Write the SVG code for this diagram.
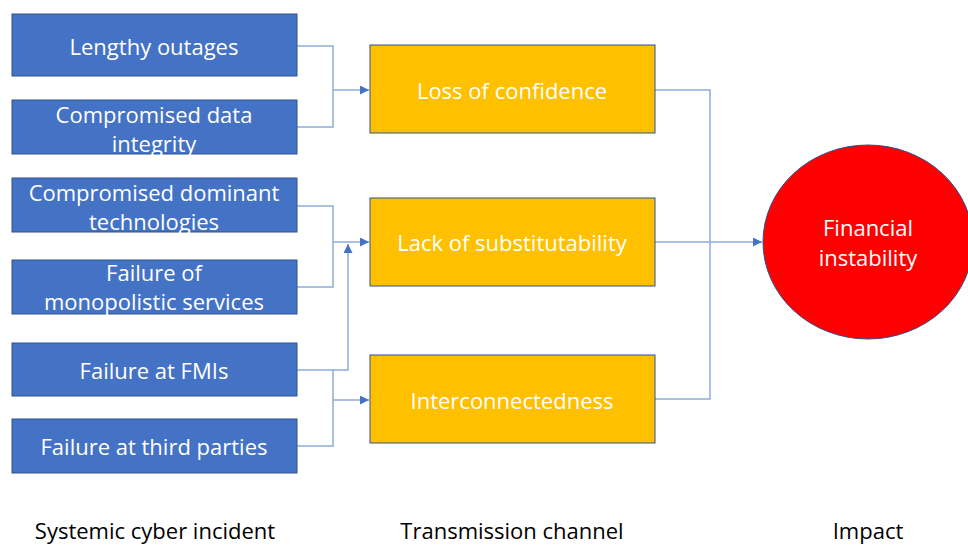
<svg xmlns="http://www.w3.org/2000/svg" width="968" height="546" viewBox="0 0 968 546">
<style>
.b{fill:#4472C4;stroke:#2F528F;stroke-width:1}
.o{fill:#FFC000;stroke:#2F528F;stroke-width:1}
.t{font-family:"Open Sans","Liberation Sans",sans-serif;font-size:22px;fill:#fff;text-anchor:middle;dominant-baseline:central}
.l{font-family:"Open Sans","Liberation Sans",sans-serif;font-size:22px;fill:#000;text-anchor:middle;dominant-baseline:central}
.c{fill:none;stroke:#8FAADC;stroke-width:1.5}
</style>
<defs>
<marker id="a" viewBox="0 0 10 10" refX="10" refY="5" markerWidth="6" markerHeight="6" orient="auto" markerUnits="strokeWidth">
<path d="M0,0 L10,5 L0,10 z" fill="#4472C4"/>
</marker>
</defs>
<rect width="968" height="546" fill="#fff"/>
<g id="connectors">
<path class="c" d="M297,46 H333 V127 H297"/>
<path class="c" d="M333,90 H369" marker-end="url(#a)"/>
<path class="c" d="M297,206 H333 V287 H297"/>
<path class="c" d="M333,242 H369" marker-end="url(#a)"/>
<path class="c" d="M297,370 H348 V244" marker-end="url(#a)"/>
<path class="c" d="M333,370 V446 H297"/>
<path class="c" d="M333,400 H369" marker-end="url(#a)"/>
<path class="c" d="M655,90 H710 V399 H655"/>
<path class="c" d="M655,242 H762" marker-end="url(#a)"/>
</g>
<g id="n1"><rect class="b" x="12" y="14" width="285" height="62"/><text class="t" x="154" y="46">Lengthy outages</text></g>
<g id="n2"><rect class="b" x="12" y="100" width="285" height="54"/><text class="t" x="154" y="114">Compromised data</text><text class="t" x="154" y="143">integrity</text></g>
<g id="n3"><rect class="b" x="12" y="178" width="285" height="54"/><text class="t" x="154" y="192">Compromised dominant</text><text class="t" x="154" y="221">technologies</text></g>
<g id="n4"><rect class="b" x="12" y="260" width="285" height="54"/><text class="t" x="154" y="272">Failure of</text><text class="t" x="154" y="301">monopolistic services</text></g>
<g id="n5"><rect class="b" x="12" y="343" width="285" height="53"/><text class="t" x="154" y="370">Failure at FMIs</text></g>
<g id="n6"><rect class="b" x="12" y="419" width="285" height="54"/><text class="t" x="154" y="446">Failure at third parties</text></g>
<g id="o1"><rect class="o" x="370" y="45" width="285" height="88"/><text class="t" x="512" y="90">Loss of confidence</text></g>
<g id="o2"><rect class="o" x="370" y="198" width="285" height="88"/><text class="t" x="512" y="242">Lack of substitutability</text></g>
<g id="o3"><rect class="o" x="370" y="355" width="285" height="88"/><text class="t" x="512" y="400">Interconnectedness</text></g>
<g id="impact"><ellipse cx="868" cy="242" rx="105" ry="97" fill="#FF0000" stroke="#2F528F" stroke-width="1"/><text class="t" x="868" y="227">Financial</text><text class="t" x="868" y="257">instability</text></g>
<g id="labels">
<text class="l" x="155" y="530">Systemic cyber incident</text>
<text class="l" x="512" y="530">Transmission channel</text>
<text class="l" x="868" y="530">Impact</text>
</g>
</svg>
